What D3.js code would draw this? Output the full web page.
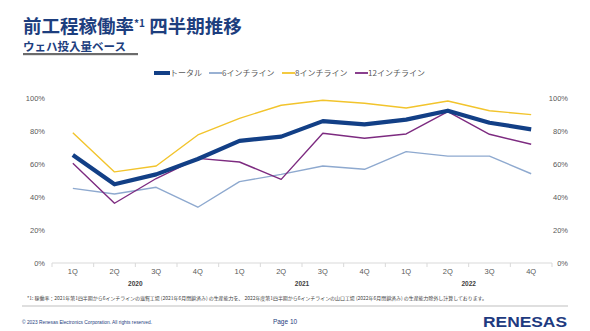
<!DOCTYPE html>
<html>
<head>
<meta charset="utf-8">
<script src="https://cdn.jsdelivr.net/npm/d3@7"></script>
<style>
  body { margin: 0; background: #fff; }
  svg { font-family: "Noto Sans CJK JP", "Noto Sans", sans-serif; }
</style>
</head>
<body>
<svg id="chart" width="590" height="331"></svg>
<script>
// data
var quarters = ["1Q","2Q","3Q","4Q","1Q","2Q","3Q","4Q","1Q","2Q","3Q","4Q"];
var years = ["2020","2021","2022"];
var yTicks = [0, 20, 40, 60, 80, 100];

var total   = [65.5, 47.7, 53.7, 63, 74, 76.6, 86, 84, 86.9, 92.3, 85, 81];
var inch6   = [45.2, 41.8, 45.9, 33.8, 49.3, 53.7, 58.8, 56.8, 67.5, 64.8, 64.8, 54.1];
var inch8   = [79, 55.2, 58.8, 77.6, 87.7, 95.6, 98.6, 96.8, 93.9, 98.2, 92.3, 89.9];
var inch12  = [60.4, 36.2, 51.2, 63.4, 61.2, 50.7, 78.6, 75.6, 78.2, 91.7, 78, 72];

var seriesNames = ["トータル", "6インチライン", "8インチライン", "12インチライン"];
var seriesColors = ["#123F86", "#8EA9CF", "#F2C42C", "#7D2B80"];
var seriesWidths = [4.2, 1.4, 1.4, 1.4];

var series = [total, inch6, inch8, inch12].map(function(v, i) {
    return {name: seriesNames[i], values: v, color: seriesColors[i], width: seriesWidths[i]};
});

var svg = d3.select("#chart");

// title block
var title = svg.append("text")
    .attr("x", 23).attr("y", 33)
    .style("font-size", "18.5px").style("font-weight", "bold")
    .style("fill", "#1D3E7E");
title.append("tspan").text("前工程稼働率");
title.append("tspan").attr("dy", -6).style("font-size", "10px").text("*1");
title.append("tspan").attr("dy", 6).text(" 四半期推移");

svg.append("text")
    .attr("x", 23).attr("y", 50.5)
    .style("font-size", "11.5px").style("font-weight", "bold")
    .style("fill", "#1D3E7E")
    .text("ウェハ投入量ベース");

svg.append("rect")
    .attr("x", 23).attr("y", 53).attr("width", 115).attr("height", 2.2)
    .attr("fill", "#6B6B6B");

// scales
var x = d3.scaleBand().domain(d3.range(quarters.length)).range([52, 552]);
var y = d3.scaleLinear().domain([0, 100]).range([263, 98]);

// axes
var leftAxis = d3.axisLeft(y).tickValues(yTicks).tickFormat(d => d + "%").tickSize(0).tickPadding(7);
var rightAxis = d3.axisRight(y).tickValues(yTicks).tickFormat(d => d + "%").tickSize(0).tickPadding(0);

var gl = svg.append("g").attr("transform", "translate(52,0)").call(leftAxis);
gl.select(".domain").remove();
gl.selectAll("text").style("font-size", "7.5px").style("fill", "#595959").style("font-family", "Liberation Sans, Arial, sans-serif");

var gr = svg.append("g").attr("transform", "translate(568,0)").call(rightAxis);
gr.select(".domain").remove();
gr.selectAll("text").attr("text-anchor", "end").style("font-size", "7.5px").style("fill", "#595959").style("font-family", "Liberation Sans, Arial, sans-serif");

// baseline with boundary ticks
svg.append("line")
    .attr("x1", 52).attr("x2", 552).attr("y1", 263).attr("y2", 263)
    .attr("stroke", "#D9D9D9").attr("stroke-width", 1);

var bounds = d3.range(quarters.length + 1).map(i => i < quarters.length ? x(i) : x(quarters.length - 1) + x.bandwidth());
svg.selectAll(".qtick").data(bounds).enter().append("line")
    .attr("x1", d => d).attr("x2", d => d).attr("y1", 263).attr("y2", 267)
    .attr("stroke", "#D9D9D9");

svg.selectAll(".qlabel").data(quarters).enter().append("text")
    .attr("x", (d, i) => x(i) + x.bandwidth() / 2).attr("y", 274)
    .attr("text-anchor", "middle")
    .style("font-size", "7.5px").style("fill", "#595959")
    .style("font-family", "Liberation Sans, Arial, sans-serif")
    .text(d => d);

svg.selectAll(".ylabel").data(years).enter().append("text")
    .attr("x", (d, i) => x(i * 4) + x.bandwidth() * 2).attr("y", 286)
    .attr("text-anchor", "middle")
    .style("font-size", "6.5px").style("font-weight", "bold").style("fill", "#404040")
    .style("font-family", "Liberation Sans, Arial, sans-serif")
    .text(d => d);

// lines
var line = d3.line()
    .x((d, i) => x(i) + x.bandwidth() / 2)
    .y(d => y(d));

// draw thin series first, total on top
[1, 2, 3, 0].forEach(function(k) {
    var s = series[k];
    svg.append("path")
        .attr("d", line(s.values))
        .attr("fill", "none")
        .attr("stroke", s.color)
        .attr("stroke-width", s.width)
        .attr("stroke-linejoin", "round");
});

// legend
var legendX = [154, 209, 282, 355];
var legendLen = [16, 13, 13, 13];
series.forEach(function(s, i) {
    svg.append("line")
        .attr("x1", legendX[i]).attr("x2", legendX[i] + legendLen[i])
        .attr("y1", 73).attr("y2", 73)
        .attr("stroke", s.color).attr("stroke-width", s.width === 1.4 ? 1.8 : 4);
    svg.append("text")
        .attr("x", legendX[i] + legendLen[i]).attr("y", 76)
        .style("font-size", "8px").style("fill", "#595959")
        .text(s.name);
});

// footnote
svg.append("text")
    .attr("x", 27).attr("y", 300)
    .attr("textLength", 460).attr("lengthAdjust", "spacingAndGlyphs")
    .style("font-size", "5px").style("fill", "#404040")
    .text("*1: 稼働率：2021年第1四半期から6インチラインの滋賀工場 (2021年6月閉鎖済み) の生産能力を、 2022年度第1四半期から6インチラインの山口工場 (2022年6月閉鎖済み) の生産能力除外し計算しております。");

svg.append("line")
    .attr("x1", 22).attr("x2", 568).attr("y1", 306).attr("y2", 306)
    .attr("stroke", "#BFBFBF").attr("stroke-width", 1);

svg.append("text")
    .attr("x", 22).attr("y", 324)
    .attr("textLength", 130).attr("lengthAdjust", "spacingAndGlyphs")
    .style("font-size", "5px").style("fill", "#1D3E7E")
    .style("font-family", "Liberation Sans, Arial, sans-serif")
    .text("© 2023 Renesas Electronics Corporation. All rights reserved.");

svg.append("text")
    .attr("x", 285).attr("y", 324)
    .attr("text-anchor", "middle")
    .style("font-size", "6.5px").style("fill", "#1D3E7E")
    .style("font-family", "Liberation Sans, Arial, sans-serif")
    .text("Page 10");

svg.append("text")
    .attr("x", 525).attr("y", 327)
    .attr("text-anchor", "middle")
    .attr("textLength", 84).attr("lengthAdjust", "spacingAndGlyphs")
    .style("font-size", "15px").style("font-weight", "bold").style("fill", "#1E3A80")
    .style("font-family", "Liberation Sans, Arial, sans-serif")
    .text("RENESAS");
</script>
</body>
</html>
